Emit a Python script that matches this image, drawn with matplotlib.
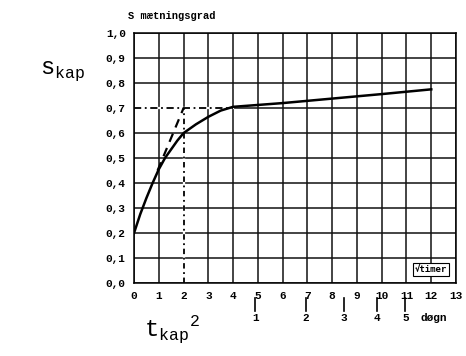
import numpy as np
import matplotlib
matplotlib.use('Agg')
import matplotlib.pyplot as plt

plt.rcParams['mathtext.fontset'] = 'custom'
plt.rcParams['mathtext.tt'] = 'Liberation Mono'
plt.rcParams['mathtext.rm'] = 'Liberation Mono'

# sqrt(hours) on x, degree of saturation on y
t_curve = [0, 0.25, 0.5, 0.75, 1.0, 1.25, 1.5, 1.75, 2.0, 2.5, 3.0, 3.5, 4.0, 6.0, 8.0, 10.0, 12.0]
s_curve = [0.20, 0.275, 0.34, 0.40, 0.455, 0.50, 0.535, 0.57, 0.60, 0.635, 0.665, 0.69, 0.705, 0.72, 0.738, 0.756, 0.775]

tangent_t = [0.95, 2.0]
tangent_s = [0.45, 0.70]

s_kap = 0.70
t_kap = 2.0
t_knee = 4.0

x_ticks = list(range(0, 14))
y_ticks = [round(0.1 * i, 1) for i in range(0, 11)]
days = [1, 2, 3, 4, 5]

mono = 'Liberation Mono'

fig = plt.figure(figsize=(4.66, 3.56), dpi=100)
ax = fig.add_axes([0.2876, 0.205, 0.691, 0.702])

ax.set_xlim(0, 13)
ax.set_ylim(0, 1.0)
ax.set_xticks(x_ticks)
ax.set_yticks(y_ticks)
ax.grid(True, color='#111111', linewidth=1.1)
ax.set_axisbelow(True)
for sp in ax.spines.values():
    sp.set_linewidth(1.1)
ax.tick_params(length=0, pad=6)
ax.set_xticklabels([str(x) for x in x_ticks], fontfamily=mono, fontweight='bold', fontsize=8)
ax.set_yticklabels([f'{y:.1f}'.replace('.', ',') for y in y_ticks], fontfamily=mono, fontweight='bold', fontsize=8)

# dashed construction lines
ax.plot([0, t_knee], [s_kap, s_kap], color='white', linewidth=1.6, zorder=2)
ax.plot([0, t_knee], [s_kap, s_kap], color='black', linewidth=1.3, linestyle=(0, (4, 2, 1, 2)), zorder=3)
ax.plot([t_kap, t_kap], [0, s_kap], color='white', linewidth=1.6, zorder=2)
ax.plot([t_kap, t_kap], [0, s_kap], color='black', linewidth=1.3, linestyle=(0, (3, 2, 1, 2)), zorder=3)
ax.plot(tangent_t, tangent_s, color='black', linewidth=1.6, linestyle=(0, (4, 3)), zorder=3)

# saturation curve
ax.plot(t_curve, s_curve, color='black', linewidth=1.8, zorder=4)

# sqrt(hours) label box
ax.text(12, 0.055, '√timer', fontfamily=['DejaVu Sans Mono'], fontweight='bold', fontsize=6.5,
        ha='center', va='center', zorder=5,
        bbox=dict(boxstyle='square,pad=0.2', facecolor='white', edgecolor='black', linewidth=0.8))

# secondary day scale under the axis
day_pos = np.sqrt(24 * np.array(days))
trans = ax.get_xaxis_transform()
for d, p in zip(days, day_pos):
    ax.plot([p, p], [-0.06, -0.11], color='black', linewidth=1.2, transform=trans, clip_on=False)
    ax.text(p, -0.12, str(d), transform=trans, ha='center', va='top',
            fontfamily=mono, fontweight='bold', fontsize=8)
ax.text(12.1, -0.12, 'døgn', transform=trans, ha='center', va='top',
        fontfamily=mono, fontweight='bold', fontsize=8)

fig.text(0.275, 0.955, 'S mætningsgrad', fontfamily=mono, fontweight='bold', fontsize=7.5, ha='left', va='center')
fig.text(0.085, 0.80, r'$\mathtt{s}_{\mathtt{kap}}$', fontsize=17, ha='left', va='center')
fig.text(0.31, 0.075, r'$\mathtt{t}_{\mathtt{kap}}{}^{\mathtt{2}}$', fontsize=17, ha='left', va='center')

fig.savefig('out.png', dpi=100)
